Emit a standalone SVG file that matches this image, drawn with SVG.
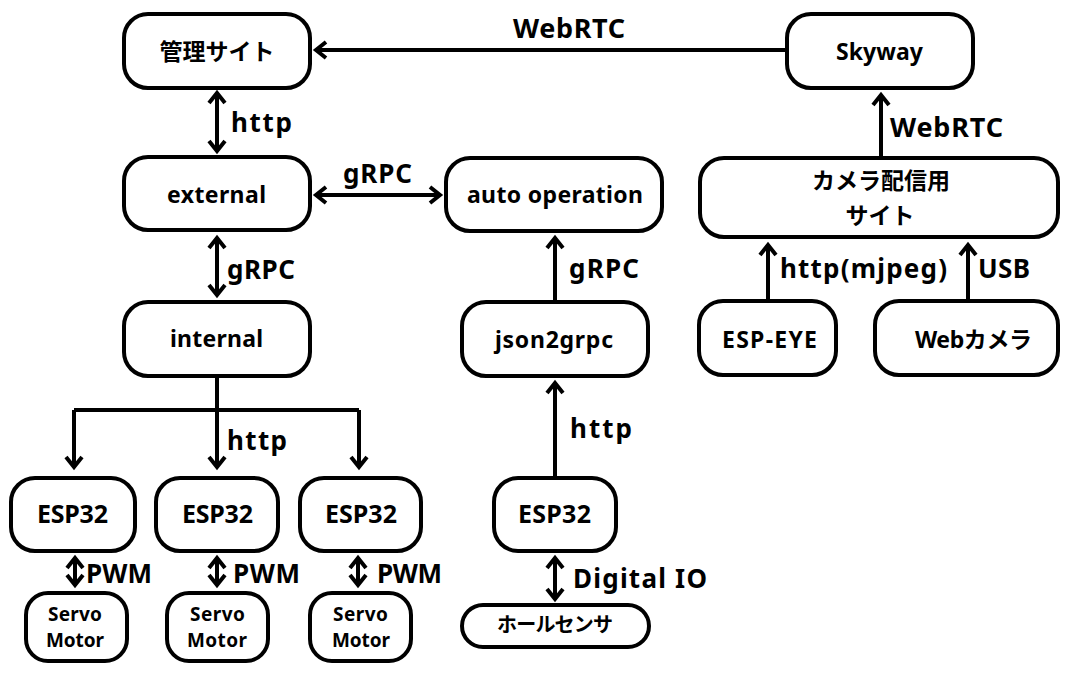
<svg xmlns="http://www.w3.org/2000/svg" width="1077" height="680" viewBox="0 0 1077 680">
<style>
.box{fill:#fff;stroke:#000;stroke-width:4}
.ln{fill:none;stroke:#000;stroke-width:4}
text{font-family:"Noto Sans","Noto Sans CJK JP",sans-serif;font-weight:bold;fill:#000}
.nt{font-size:23px;text-anchor:middle}
.jp{font-size:23px;text-anchor:middle}
.esp{font-size:25px;text-anchor:middle}
.sm{font-size:19px;text-anchor:middle}
.hs{font-size:20px;text-anchor:middle}
.lb{font-size:26px}
.lg{font-size:27px}
</style>
<defs>
<marker id="ah" markerUnits="userSpaceOnUse" orient="auto-start-reverse" viewBox="-15 -15 30 30" refX="0" refY="0" markerWidth="30" markerHeight="30" overflow="visible">
<path d="M-10,-8 L0,0 L-10,8" fill="none" stroke="#000" stroke-width="4"/>
</marker>
</defs>
<rect width="1077" height="680" fill="#fff"/>
<g id="connectors">
<line class="ln" x1="786" y1="50" x2="316" y2="50" marker-end="url(#ah)"/>
<line class="ln" x1="217" y1="93" x2="217" y2="151" marker-start="url(#ah)" marker-end="url(#ah)"/>
<line class="ln" x1="316" y1="195" x2="440" y2="195" marker-start="url(#ah)" marker-end="url(#ah)"/>
<line class="ln" x1="217" y1="238" x2="217" y2="295" marker-start="url(#ah)" marker-end="url(#ah)"/>
<path class="ln" d="M74,410 H359"/>
<line class="ln" x1="217" y1="377" x2="217" y2="467" marker-end="url(#ah)"/>
<line class="ln" x1="74" y1="410" x2="74" y2="467" marker-end="url(#ah)"/>
<line class="ln" x1="359" y1="410" x2="359" y2="467" marker-end="url(#ah)"/>
<line class="ln" x1="75" y1="558" x2="75" y2="585" marker-start="url(#ah)" marker-end="url(#ah)"/>
<line class="ln" x1="217" y1="558" x2="217" y2="585" marker-start="url(#ah)" marker-end="url(#ah)"/>
<line class="ln" x1="358" y1="558" x2="358" y2="585" marker-start="url(#ah)" marker-end="url(#ah)"/>
<line class="ln" x1="555" y1="302" x2="555" y2="238" marker-end="url(#ah)"/>
<line class="ln" x1="555" y1="478" x2="555" y2="383" marker-end="url(#ah)"/>
<line class="ln" x1="555" y1="558" x2="555" y2="599" marker-start="url(#ah)" marker-end="url(#ah)"/>
<line class="ln" x1="881" y1="158" x2="881" y2="95" marker-end="url(#ah)"/>
<line class="ln" x1="768" y1="301" x2="768" y2="245" marker-end="url(#ah)"/>
<line class="ln" x1="968" y1="301" x2="968" y2="245" marker-end="url(#ah)"/>
<text class="lg" x="513" y="38" textLength="112">WebRTC</text>
<text class="lb" x="231" y="132" textLength="61">http</text>
<text class="lb" x="343" y="183" textLength="69">gRPC</text>
<text class="lb" x="227" y="279" textLength="68">gRPC</text>
<text class="lb" x="227" y="450" textLength="60">http</text>
<text class="lb" x="569" y="278" textLength="70">gRPC</text>
<text class="lb" x="570" y="438" textLength="62">http</text>
<text class="lb" x="573" y="588" textLength="134">Digital IO</text>
<text class="lb" x="86" y="583" textLength="66">PWM</text>
<text class="lb" x="233" y="583" textLength="67">PWM</text>
<text class="lb" x="377" y="583" textLength="65">PWM</text>
<text class="lg" x="890" y="137" textLength="113">WebRTC</text>
<text class="lb" x="780" y="278" textLength="167">http(mjpeg)</text>
<text class="lb" x="978" y="278" textLength="52">USB</text>
</g>
<g id="kanri"><rect class="box" x="124" y="14" width="186" height="74" rx="24"/><text class="jp" x="217" y="60">管理サイト</text></g>
<g id="external"><rect class="box" x="124" y="157" width="186" height="73" rx="24"/><text class="nt" x="216.5" y="203" textLength="99">external</text></g>
<g id="auto-operation"><rect class="box" x="446" y="158" width="216" height="73" rx="24"/><text class="nt" x="555" y="203" textLength="176">auto operation</text></g>
<g id="internal"><rect class="box" x="124" y="302" width="186" height="74" rx="24"/><text class="nt" x="216.5" y="347" textLength="93">internal</text></g>
<g id="json2grpc"><rect class="box" x="462" y="302" width="186" height="74" rx="24"/><text class="nt" x="554" y="348" textLength="118">json2grpc</text></g>
<g id="skyway"><rect class="box" x="787" y="14" width="186" height="74" rx="24"/><text class="nt" x="879.5" y="60" textLength="87">Skyway</text></g>
<g id="camera-site"><rect class="box" x="700" y="158" width="358" height="79" rx="24"/><text class="jp" x="881" y="189">カメラ配信用</text><text class="jp" x="880" y="224">サイト</text></g>
<g id="esp-eye"><rect class="box" x="699" y="301" width="137" height="74" rx="24"/><text class="nt" x="769.5" y="348" textLength="95">ESP-EYE</text></g>
<g id="webcam"><rect class="box" x="875" y="301" width="183" height="74" rx="24"/><text class="nt" x="973.5" y="348" textLength="117">Webカメラ</text></g>
<g id="esp32-1"><rect class="box" x="11" y="478" width="124" height="73" rx="24"/><text class="esp" x="72.5" y="523" textLength="71">ESP32</text></g>
<g id="esp32-2"><rect class="box" x="156" y="478" width="122" height="73" rx="24"/><text class="esp" x="217.5" y="523" textLength="71">ESP32</text></g>
<g id="esp32-3"><rect class="box" x="300" y="478" width="121" height="73" rx="24"/><text class="esp" x="361" y="523" textLength="72">ESP32</text></g>
<g id="esp32-4"><rect class="box" x="494" y="478" width="122" height="73" rx="24"/><text class="esp" x="554.5" y="523" textLength="73">ESP32</text></g>
<g id="servo-1"><rect class="box" x="26" y="593" width="101" height="68" rx="22"/><text class="sm" x="75" y="621" textLength="54">Servo</text><text class="sm" x="75" y="647" textLength="58">Motor</text></g>
<g id="servo-2"><rect class="box" x="167" y="593" width="101" height="68" rx="22"/><text class="sm" x="217.5" y="621" textLength="55">Servo</text><text class="sm" x="217" y="647" textLength="60">Motor</text></g>
<g id="servo-3"><rect class="box" x="310" y="593" width="101" height="68" rx="22"/><text class="sm" x="360.5" y="621" textLength="55">Servo</text><text class="sm" x="361" y="647" textLength="58">Motor</text></g>
<g id="hall-sensor"><rect class="box" x="462" y="605" width="187" height="42" rx="21"/><text class="hs" x="555" y="632" textLength="116">ホールセンサ</text></g>
</svg>
